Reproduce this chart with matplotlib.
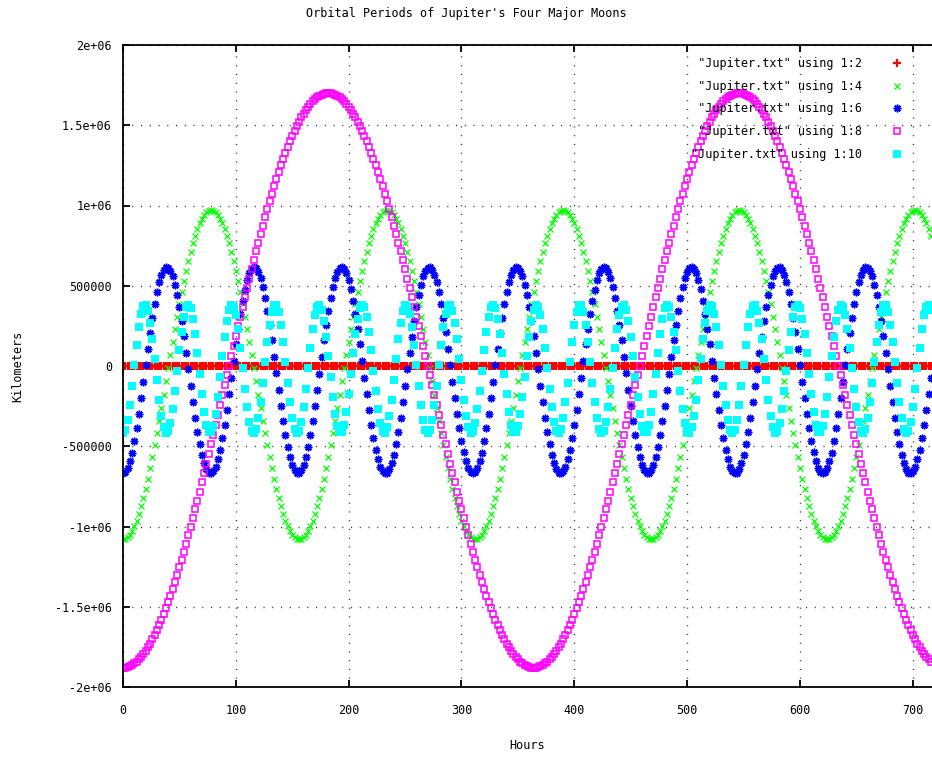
import matplotlib
matplotlib.use("Agg")
import matplotlib.pyplot as plt

hours = list(range(0, 717, 2))

# x positions in thousands of km, every 2 hours
jupiter_x = [0] * len(hours)

ganymede_x = [
    -1080, -1077, -1067, -1050, -1027, -998, -963, -922, -874, -822, -765, -703, -637, -568, -494, -418, -340, -260, -179, -96,
    -14, 69, 150, 230, 308, 384, 458, 527, 593, 655, 712, 764, 811, 853, 888, 917, 940, 957, 967, 970,
    967, 957, 940, 917, 888, 853, 811, 764, 712, 655, 593, 527, 458, 384, 308, 230, 150, 69, -14, -96,
    -179, -260, -340, -418, -494, -568, -637, -703, -765, -822, -874, -922, -963, -998, -1027, -1050, -1067, -1077,
    -1080, -1077, -1067, -1050, -1027, -998, -963, -922, -874, -822, -765, -703, -637, -568, -494, -418, -340, -260, -179, -96,
    -14, 69, 150, 230, 308, 384, 458, 527, 593, 655, 712, 764, 811, 853, 888, 917, 940, 957, 967, 970,
    967, 957, 940, 917, 888, 853, 811, 764, 712, 655, 593, 527, 458, 384, 308, 230, 150, 69, -14, -96,
    -179, -260, -340, -418, -494, -568, -637, -703, -765, -822, -874, -922, -963, -998, -1027, -1050, -1067, -1077,
    -1080, -1077, -1067, -1050, -1027, -998, -963, -922, -874, -822, -765, -703, -637, -568, -494, -418, -340, -260, -179, -96,
    -14, 69, 150, 230, 308, 384, 458, 527, 593, 655, 712, 764, 811, 853, 888, 917, 940, 957, 967, 970,
    967, 957, 940, 917, 888, 853, 811, 764, 712, 655, 593, 527, 458, 384, 308, 230, 150, 69, -14, -96,
    -179, -260, -340, -418, -494, -568, -637, -703, -765, -822, -874, -922, -963, -998, -1027, -1050, -1067, -1077,
    -1080, -1077, -1067, -1050, -1027, -998, -963, -922, -874, -822, -765, -703, -637, -568, -494, -418, -340, -260, -179, -96,
    -14, 69, 150, 230, 308, 384, 458, 527, 593, 655, 712, 764, 811, 853, 888, 917, 940, 957, 967, 970,
    967, 957, 940, 917, 888, 853, 811, 764, 712, 655, 593, 527, 458, 384, 308, 230, 150, 69, -14, -96,
    -179, -260, -340, -418, -494, -568, -637, -703, -765, -822, -874, -922, -963, -998, -1027, -1050, -1067, -1077,
    -1080, -1077, -1067, -1050, -1027, -998, -963, -922, -874, -822, -765, -703, -637, -568, -494, -418, -340, -260, -179, -96,
    -14, 69, 150, 230, 308, 384, 458, 527, 593, 655, 712, 764, 811, 853, 888, 917, 940, 957, 967, 970,
    967, 957, 940, 917, 888, 853, 811,
]

europa_x = [
    -669, -661, -636, -595, -539, -469, -388, -298, -201, -98, 5, 109, 208, 301, 386, 460, 521, 568, 599, 614,
    612, 593, 558, 507, 443, 366, 279, 184, 83, -20, -124, -225, -321, -410, -488, -554, -606, -643, -664, -669,
    -656, -627, -582, -523, -450, -367, -274, -175, -73, 31, 134, 232, 323, 406, 476, 534, 577, 604, 615, 609,
    586, 547, 493, 425, 345, 256, 159, 58, -46, -150, -250, -344, -430, -505, -568, -617, -650, -667, -667, -650,
    -617, -569, -506, -430, -345, -250, -150, -47, 57, 159, 255, 345, 425, 492, 546, 585, 609, 615, 604, 577,
    535, 477, 406, 324, 232, 134, 32, -72, -175, -274, -366, -450, -522, -582, -627, -656, -669, -664, -643, -606,
    -554, -488, -410, -322, -226, -125, -21, 83, 183, 278, 366, 442, 507, 558, 593, 612, 614, 599, 568, 521,
    460, 387, 302, 209, 109, 6, -98, -200, -297, -388, -469, -538, -594, -635, -660,
    -669, -661, -636, -595, -539, -469, -388, -298, -201, -98, 5, 109, 208, 301, 386, 460, 521, 568, 599, 614,
    612, 593, 558, 507, 443, 366, 279, 184, 83, -20, -124, -225, -321, -410, -488, -554, -606, -643, -664, -669,
    -656, -627, -582, -523, -450, -367, -274, -175, -73, 31, 134, 232, 323, 406, 476, 534, 577, 604, 615, 609,
    586, 547, 493, 425, 345, 256, 159, 58, -46, -150, -250, -344, -430, -505, -568, -617, -650, -667, -667, -650,
    -617, -569, -506, -430, -345, -250, -150, -47, 57, 159, 255, 345, 425, 492, 546, 585, 609, 615, 604, 577,
    535, 477, 406, 324, 232, 134, 32, -72, -175, -274, -366, -450, -522, -582, -627, -656, -669, -664, -643, -606,
    -554, -488, -410, -322, -226, -125, -21, 83, 183, 278, 366, 442, 507, 558, 593, 612, 614, 599, 568, 521,
    460, 387, 302, 209, 109, 6, -98, -200, -297, -388, -469, -538, -594, -635, -660,
    -669, -661, -636, -595, -539, -469, -388, -298, -201, -98, 5, 109, 208, 301, 386, 460, 521, 568, 599, 614,
    612, 593, 558, 507, 443, 366, 279, 184, 83, -20, -124, -225, -321, -410, -488, -554, -606, -643, -664, -669,
    -656, -627, -582, -523, -450, -367, -274, -175, -73,
]

callisto_x = [
    -1880, -1879, -1876, -1870, -1863, -1853, -1842, -1828, -1812, -1794, -1774, -1753, -1729, -1703, -1675, -1645, -1614, -1580, -1545, -1508,
    -1470, -1430, -1388, -1345, -1300, -1254, -1207, -1157, -1107, -1055, -1003, -949, -894, -839, -782, -725, -667, -608, -548, -488,
    -428, -367, -306, -244, -183, -121, -59, 3, 64, 126, 187, 248, 308, 368, 428, 487, 545, 602, 659, 714,
    769, 823, 875, 927, 977, 1027, 1074, 1120, 1165, 1208, 1250, 1290, 1328, 1365, 1400, 1434, 1465, 1495, 1523, 1549,
    1572, 1594, 1614, 1632, 1648, 1662, 1673, 1683, 1690, 1696, 1699, 1700,
    1699, 1696, 1690, 1683, 1673, 1662, 1648, 1632, 1614, 1594, 1572, 1549, 1523, 1495, 1465, 1434, 1400, 1365, 1328, 1290,
    1250, 1208, 1165, 1120, 1074, 1027, 977, 927, 875, 823, 769, 714, 659, 602, 545, 487, 428, 368, 308, 248,
    187, 126, 64, 3, -59, -121, -183, -244, -306, -367, -428, -488, -548, -608, -667, -725, -782, -839, -894, -949,
    -1003, -1055, -1107, -1157, -1207, -1254, -1300, -1345, -1388, -1430, -1470, -1508, -1545, -1580, -1614, -1645, -1675, -1703, -1729, -1753,
    -1774, -1794, -1812, -1828, -1842, -1853, -1863, -1870, -1876, -1879,
    -1880, -1879, -1876, -1870, -1863, -1853, -1842, -1828, -1812, -1794, -1774, -1753, -1729, -1703, -1675, -1645, -1614, -1580, -1545, -1508,
    -1470, -1430, -1388, -1345, -1300, -1254, -1207, -1157, -1107, -1055, -1003, -949, -894, -839, -782, -725, -667, -608, -548, -488,
    -428, -367, -306, -244, -183, -121, -59, 3, 64, 126, 187, 248, 308, 368, 428, 487, 545, 602, 659, 714,
    769, 823, 875, 927, 977, 1027, 1074, 1120, 1165, 1208, 1250, 1290, 1328, 1365, 1400, 1434, 1465, 1495, 1523, 1549,
    1572, 1594, 1614, 1632, 1648, 1662, 1673, 1683, 1690, 1696, 1699, 1700,
    1699, 1696, 1690, 1683, 1673, 1662, 1648, 1632, 1614, 1594, 1572, 1549, 1523, 1495, 1465, 1434, 1400, 1365, 1328, 1290,
    1250, 1208, 1165, 1120, 1074, 1027, 977, 927, 875, 823, 769, 714, 659, 602, 545, 487, 428, 368, 308, 248,
    187, 126, 64, 3, -59, -121, -183, -244, -306, -367, -428, -488, -548, -608, -667, -725, -782, -839, -894, -949,
    -1003, -1055, -1107, -1157, -1207, -1254, -1300, -1345, -1388, -1430, -1470, -1508, -1545, -1580, -1614, -1645, -1675, -1703, -1729, -1753,
    -1774, -1794, -1812, -1828, -1842,
]

io_x = [
    -417, -396, -335, -241, -123, 6, 133, 244, 327, 374, 380, 345, 271, 167, 43, -86, -209, -311, -382, -415,
    -406, -356, -271, -158, -31, 98, 214, 307, 365, 383, 359, 295, 199, 80, -50, -175, -285, -366, -410,
    -413, -374, -298, -192, -68, 62, 183, 283, 352, 382, 370, 317, 229, 115, -12, -141, -256, -346, -402,
    -417, -390, -323, -225, -105, 25, 150, 257, 336, 378, 378, 336, 257, 150, 25, -105, -225, -323, -390, -417,
    -402, -346, -256, -141, -12, 115, 229, 317, 370, 382, 352, 283, 183, 62, -68, -192, -298, -374, -413,
    -410, -366, -285, -175, -50, 80, 199, 295, 359, 383, 365, 307, 214, 98, -31, -158, -271, -356, -406,
    -415, -382, -311, -209, -86, 43, 167, 271, 345, 380, 374, 327, 244, 133, 6, -123, -241, -335, -396,
    -417, -396, -335, -241, -123, 6, 133, 244, 327, 374, 380, 345, 271, 167, 43, -86, -209, -311, -382, -415,
    -406, -356, -271, -158, -31, 98, 214, 307, 365, 383, 359, 295, 199, 80, -50, -175, -285, -366, -410,
    -413, -374, -298, -192, -68, 62, 183, 283, 352, 382, 370, 317, 229, 115, -12, -141, -256, -346, -402,
    -417, -390, -323, -225, -105, 25, 150, 257, 336, 378, 378, 336, 257, 150, 25, -105, -225, -323, -390, -417,
    -402, -346, -256, -141, -12, 115, 229, 317, 370, 382, 352, 283, 183, 62, -68, -192, -298, -374, -413,
    -410, -366, -285, -175, -50, 80, 199, 295, 359, 383, 365, 307, 214, 98, -31, -158, -271, -356, -406,
    -415, -382, -311, -209, -86, 43, 167, 271, 345, 380, 374, 327, 244, 133, 6, -123, -241, -335, -396,
    -417, -396, -335, -241, -123, 6, 133, 244, 327, 374, 380, 345, 271, 167, 43, -86, -209, -311, -382, -415,
    -406, -356, -271, -158, -31, 98, 214, 307, 365, 383, 359, 295, 199, 80, -50, -175, -285, -366, -410,
    -413, -374, -298, -192, -68, 62, 183, 283, 352, 382, 370, 317, 229, 115, -12, -141, -256, -346, -402,
    -417, -390, -323, -225, -105, 25, 150, 257, 336, 378, 378, 336, 257, 150, 25, -105, -225, -323, -390, -417,
    -402, -346, -256, -141, -12, 115, 229, 317, 370, 382, 352,
]

series_labels = [' "Jupiter.txt" using 1:2', ' "Jupiter.txt" using 1:4', ' "Jupiter.txt" using 1:6',
                 ' "Jupiter.txt" using 1:8', '"Jupiter.txt" using 1:10']
yticks = [-2e6, -1.5e6, -1e6, -5e5, 0, 5e5, 1e6, 1.5e6, 2e6]
ytick_labels = ['-2e+06', '-1.5e+06', '-1e+06', '-500000', '0', '500000', '1e+06', '1.5e+06', '2e+06']
xticks = [0, 100, 200, 300, 400, 500, 600, 700]

plt.rcParams['font.family'] = 'DejaVu Sans Mono'
plt.rcParams['font.size'] = 8.5


def km(vals):
    return [v * 1000 for v in vals]


fig = plt.figure(figsize=(9.32, 7.57), dpi=100)
ax = fig.add_axes([123 / 932, 1 - 687 / 757, 809 / 932, 642 / 757])

ax.plot(hours, km(jupiter_x), ls='none', marker='+', ms=6, mew=1.6, color='#ff0000', label=series_labels[0])
ax.plot(hours, km(ganymede_x), ls='none', marker='x', ms=5, mew=0.9, color='#00ff00', label=series_labels[1])
ax.plot(hours, km(europa_x), ls='none', marker=(8, 2, 0), ms=5.5, mew=1.1, color='#0000ff', label=series_labels[2])
ax.plot(hours, km(callisto_x), ls='none', marker='s', ms=4.8, mew=1.1, mfc='none', mec='#ff00ff',
        color='#ff00ff', label=series_labels[3])
ax.plot(hours, km(io_x), ls='none', marker='s', ms=5.2, mew=0, color='#00ffff', label=series_labels[4])

ax.set_xlim(0, 717)
ax.set_ylim(-2e6, 2e6)
ax.set_xticks(xticks)
ax.set_yticks(yticks)
ax.set_yticklabels(ytick_labels)
ax.tick_params(direction='in', length=5, width=1.3, top=True, right=False, colors='black')
ax.tick_params(axis='x', pad=12)
ax.tick_params(axis='y', pad=8)
for side in ['left', 'top', 'bottom']:
    ax.spines[side].set_linewidth(1.3)
ax.spines['right'].set_visible(False)

ax.set_axisbelow(True)
ax.grid(True, color='0.2', linestyle=(0, (0.8, 5.5)), linewidth=1.0)

leg = ax.legend(loc='upper right', bbox_to_anchor=(0.9642, 0.9813), frameon=False, markerfirst=False,
                handlelength=1.0, handletextpad=2.5, labelspacing=0.82, borderpad=0, borderaxespad=0)

fig.suptitle("Orbital Periods of Jupiter's Four Major Moons", x=466 / 932, y=1 - 13 / 757, va='center',
             fontsize=8.5)
ax.set_xlabel('Hours')
ax.xaxis.set_label_coords(0.5, (687 - 739) / 642)
ax.set_ylabel('Kilometers')
ax.yaxis.set_label_coords((24 - 123) / 809, 0.5)

fig.savefig('out.png', dpi=100)
